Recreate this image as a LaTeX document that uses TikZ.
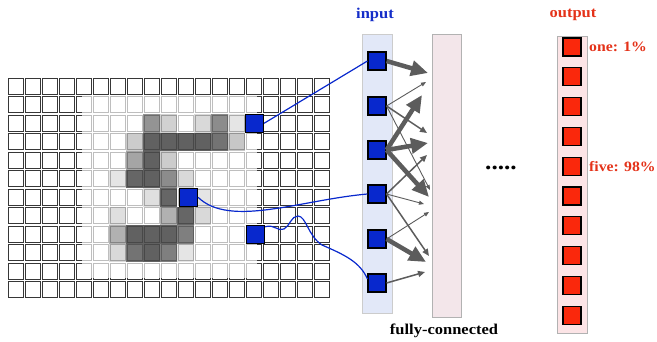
\documentclass[tikz,border=0pt]{standalone}
\usepackage{fontspec}
\setmainfont{Liberation Serif}[FakeStretch=1.1]
\usetikzlibrary{arrows.meta,calc}
\definecolor{inblue}{RGB}{8,40,205}
\definecolor{labblue}{RGB}{20,45,200}
\definecolor{outred}{RGB}{250,40,12}
\definecolor{labred}{RGB}{228,50,25}
\definecolor{arrgray}{RGB}{92,92,92}
\definecolor{colblue}{RGB}{226,232,248}
\definecolor{colpink}{RGB}{252,228,230}
\definecolor{fcpink}{RGB}{243,230,234}
\definecolor{gridline}{RGB}{55,55,55}
\tikzset{
  cell/.style={draw=gridline, line width=0.9pt},
  bsq/.style={draw=black, line width=1.1pt, fill=inblue, minimum size=18pt, inner sep=0pt},
  rsq/.style={draw=black, line width=1.1pt, fill=outred, minimum size=18pt, inner sep=0pt},
  wire/.style={draw=inblue, line width=1.2pt},
  thickarr/.style={draw=arrgray, line width=4.5pt, -{Triangle[length=17pt,width=15pt]}},
  medarr/.style={draw=arrgray, line width=1.5pt, -{Triangle[length=7pt,width=6pt]}},
  thinarr/.style={draw=arrgray, line width=0.9pt, -{Triangle[length=5pt,width=4pt]}},
  lab/.style={font=\bfseries\fontsize{15}{18}\selectfont, inner sep=0pt},
  rlab/.style={font=\bfseries\fontsize{14.3}{17}\selectfont, inner sep=0pt, text=labred, anchor=west}
}
\begin{document}
\begin{tikzpicture}[x=1pt,y=-1pt]
\useasboundingbox (0,0) rectangle (657,341);
% grid
\foreach \c in {0,...,18}
  \foreach \r in {0,...,11}
    \draw[cell] ({8+17*\c},{78.3+18.5*\r}) rectangle ++(15,16);
% fade of the digit image
\fill[white, opacity=0.68] (82,95) rectangle (257,278);
% digit "5"
\foreach \c/\r/\o in {8/2/0.42, 9/2/0.18, 11/2/0.15, 12/2/0.45, 13/2/0.1,
  7/3/0.2, 8/3/0.62, 9/3/0.62, 10/3/0.62, 11/3/0.62, 12/3/0.55, 13/3/0.22,
  7/4/0.35, 8/4/0.62, 9/4/0.2,
  6/5/0.1, 7/5/0.6, 8/5/0.62, 9/5/0.45, 10/5/0.15,
  8/6/0.12, 9/6/0.6, 11/6/0.1,
  6/7/0.12, 9/7/0.3, 10/7/0.6, 11/7/0.15,
  6/8/0.3, 7/8/0.62, 8/8/0.62, 9/8/0.62, 10/8/0.5,
  6/9/0.15, 7/9/0.55, 8/9/0.62, 9/9/0.5, 10/9/0.1}
  \fill[black, opacity=\o] ({6.5+17*\c},{77.3+18.5*\r}) rectangle ++(17,18.5);
% columns
\draw[draw=black!20, fill=colblue, line width=0.8pt] (362,34) rectangle (392,313);
\draw[draw=black!30, fill=fcpink, line width=0.8pt] (432,34) rectangle (461,317);
\draw[draw=black!30, fill=colpink, line width=0.8pt] (557,36) rectangle (587,333);
% grid highlighted pixels
\node[bsq] (g1) at (254.5,123.3) {};
\node[bsq] (g2) at (188.5,197.3) {};
\node[bsq] (g3) at (255.5,234.3) {};
% input neurons
\foreach \i/\y in {1/61,2/106,3/150,4/194,5/239,6/283}
  \node[bsq] (in\i) at (377,\y) {};
% output neurons
\foreach \i in {1,...,10}
  \node[rsq] (out\i) at (572,{47+29.8*(\i-1)}) {};
% wires
\draw[wire] (g1.east) -- (in1.west);
\draw[wire] (g2.east) .. controls (230,228) and (300,200) .. (in4.west);
\draw[wire] ($(g3.north east)+(0,2)$) .. controls (275,224) and (278,232) .. (284,229)
  .. controls (290,226) and (291,216) .. (298,216)
  .. controls (306,216) and (308,236) .. (322,245)
  .. controls (345,255) and (360,262) .. ($(in6.west)+(0,-4)$);
% arrow targets
\coordinate (t1) at (428,73);
\coordinate (t2) at (426,82);
\coordinate (t3) at (427,133);
\coordinate (t4) at (430,190);
\coordinate (t5) at (422,95);
\coordinate (t6) at (428,143);
\coordinate (t7) at (429,197);
\coordinate (t8) at (427,155);
\coordinate (t9) at (424,204);
\coordinate (t10) at (429,256);
\coordinate (t11) at (429,212);
\coordinate (t12) at (426,262);
\coordinate (t13) at (425,272);
% fully-connected arrows
\draw[thinarr] (in2.east) -- (t2);
\draw[medarr] (in2.east) -- (t3);
\draw[thinarr] (in2.east) -- (t4);
\draw[medarr] (in4.east) -- (t8);
\draw[thinarr] (in4.east) -- (t9);
\draw[medarr] (in4.east) -- (t10);
\draw[thinarr] (in5.east) -- (t11);
\draw[medarr] (in6.east) -- (t13);
\draw[thickarr] (in1.east) -- (t1);
\draw[thickarr] (in3.east) -- (t5);
\draw[thickarr] (in3.east) -- (t6);
\draw[thickarr] (in3.east) -- (t7);
\draw[thickarr] (in5.east) -- (t12);
% labels
\node[lab, text=labblue] (linput) at (375,15) {input};
\node[lab, text=labred] (loutput) at (573,15) {output};
\node[rlab] (lone) at (589,47) {one: 1\%};
\node[rlab] (lfive) at (589,167) {five: 98\%};
\node[lab] (lfc) at (444,331) {fully-connected};
\node[font=\bfseries\fontsize{23}{24}\selectfont, inner sep=0pt] (dots) at (501,168) {.....};
\end{tikzpicture}
\end{document}
